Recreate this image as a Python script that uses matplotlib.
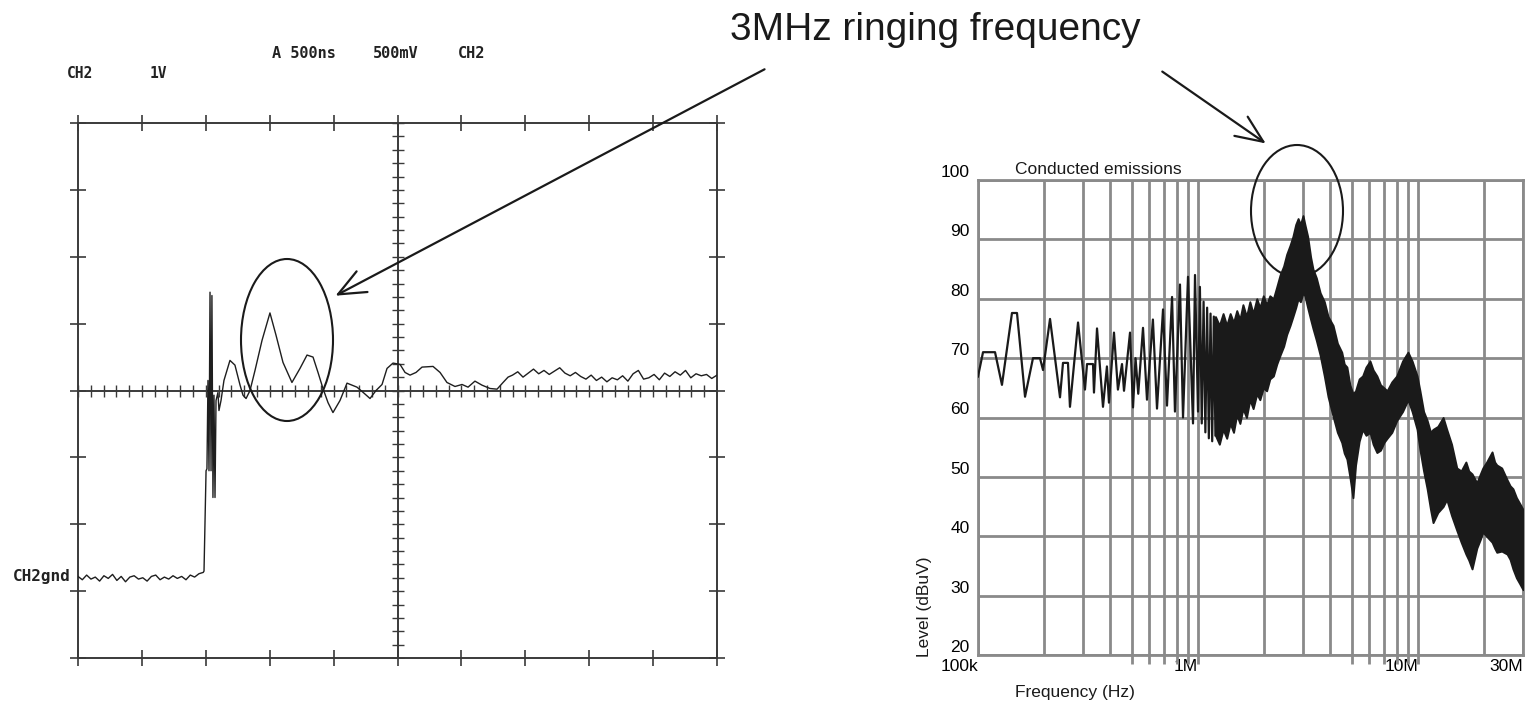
import matplotlib
matplotlib.use("Agg")
import matplotlib.pyplot as plt
import numpy as np
from matplotlib.patches import Ellipse, FancyArrowPatch
import matplotlib.transforms as mtransforms

# ---------------- data: oscilloscope (left) ----------------
# time in microseconds (500 ns/div), voltage in V (1 V/div), ground = 0 V
base_t_end = 0.98
base_v = [0.02, -0.03, 0.04, -0.02, 0.01, -0.05, 0.03, -0.01, 0.05, -0.04,
          0.02, -0.06, 0.01, 0.03, -0.02, 0.00, -0.05, 0.02, 0.04, -0.03,
          0.01, -0.02, 0.03, -0.01, 0.02, -0.03, 0.04, 0.01, 0.06, 0.08]

ring_t = [0.986, 1.002, 1.009, 1.017, 1.025, 1.033, 1.041, 1.048, 1.056, 1.064,
          1.072, 1.080, 1.095, 1.103, 1.119, 1.142, 1.189, 1.228, 1.268, 1.291,
          1.315, 1.346, 1.385, 1.440, 1.502, 1.549, 1.604, 1.674, 1.737, 1.792,
          1.839, 1.878, 1.917, 1.956, 1.995, 2.050, 2.105, 2.183, 2.238, 2.285,
          2.332, 2.379, 2.418, 2.465, 2.520, 2.559, 2.598, 2.645, 2.692, 2.778,
          2.833, 2.887, 2.950, 3.005, 3.052, 3.106, 3.161, 3.224, 3.279, 3.326,
          3.365]
ring_v = [0.10, 1.60, 1.63, 2.95, 1.60, 4.27, 1.60, 4.22, 1.20, 2.73,
          1.20, 2.65, 2.77, 2.50, 2.65, 2.95, 3.25, 3.18, 2.88, 2.73,
          2.68, 2.80, 3.10, 3.55, 3.96, 3.63, 3.22, 2.92, 3.13, 3.33,
          3.30, 3.07, 2.83, 2.62, 2.47, 2.65, 2.91, 2.85, 2.76, 2.68,
          2.80, 2.89, 3.13, 3.21, 3.19, 3.07, 3.03, 3.07, 3.15, 3.16,
          3.07, 2.92, 2.86, 2.89, 2.85, 2.94, 2.88, 2.83, 2.82, 2.92,
          3.00]

tail_t_start, tail_t_end = 3.40, 5.0
tail_v = [3.03, 3.08, 3.00, 3.06, 3.12, 3.05, 3.10, 3.04, 3.09, 3.14,
          3.06, 3.02, 3.07, 3.01, 2.97, 3.03, 2.95, 3.00, 2.93, 2.99,
          2.96, 3.02, 2.94, 3.05, 3.10, 2.97, 2.99, 3.04, 2.96, 3.06,
          3.01, 3.08, 3.03, 3.10, 2.99, 3.05, 3.02, 3.04, 2.98, 3.03]

# ---------------- data: conducted emissions (right) ----------------
lf_f_khz = [100, 105.4, 119.5, 128.5, 142.7, 150.4, 163.6, 177.8, 191.3, 197.5,
            212.5, 235.9, 243.4, 256.4, 261.8, 284.9, 306.3, 313, 333.3, 336.6,
            347.5, 369.9, 385.5, 393.8, 415, 432.5, 451.4, 460.9, 490.9, 506.5,
            520, 535, 562.3, 586.2, 623.7, 651, 693.4, 722.8, 762.1, 785.6,
            828, 854.7, 900.6, 949, 969, 1000, 1020, 1040, 1060, 1080,
            1100, 1120, 1140, 1160, 1180, 1200]
lf_level = [66.9, 71, 71, 65.5, 77.6, 77.6, 63.5, 70, 70, 68,
            76.6, 63.4, 69.2, 69.2, 61.8, 76, 64.7, 69, 69, 64.2,
            75, 61.8, 68.6, 62.5, 74.3, 64.7, 69, 64.5, 74.3, 61.7,
            70, 64, 75.1, 63, 76.5, 61.5, 78.2, 62, 80.3, 61,
            82.4, 60, 83.7, 59, 84, 61, 82, 59, 79.5, 57.5,
            78.5, 56.5, 77.5, 56, 77, 57]

band_f_mhz = [1.20, 1.25, 1.30, 1.35, 1.40, 1.45, 1.50, 1.55, 1.60, 1.66,
              1.72, 1.78, 1.85, 1.91, 1.98, 2.05, 2.12, 2.20, 2.28, 2.36,
              2.45, 2.53, 2.62, 2.70, 2.78, 2.85, 2.92, 3.00, 3.06, 3.15,
              3.25, 3.33, 3.45, 3.59, 3.75, 3.90, 4.11, 4.30, 4.50, 4.62,
              4.75, 4.90, 5.06, 5.20, 5.40, 5.60, 5.80, 6.05, 6.25, 6.50,
              6.75, 7.00, 7.23, 7.60, 8.00, 8.50, 9.00, 9.40, 9.90, 10.2,
              10.6, 11.0, 11.4, 11.7, 12.3, 13.0, 13.5, 14.2, 15.0, 15.7,
              16.5, 17.0, 17.6, 18.5, 19.2, 19.7, 20.5, 21.7, 22.3, 22.8,
              24.0, 25.4, 26.2, 27.0, 28.0, 29.0, 30.0]
band_hi = [77, 75.5, 77.5, 75.5, 77.5, 76, 78, 76.5, 79, 77,
           79.5, 77.5, 80, 78.5, 80.5, 79, 80.5, 80, 82, 84,
           85.5, 87.5, 89, 90.5, 92.5, 93.5, 92.5, 94, 92.5, 90.5,
           87, 85, 83.5, 81, 79.5, 77, 75.5, 72.5, 71, 69,
           68.5, 65.5, 64, 64.5, 66.5, 67, 68.5, 69.5, 68, 67,
           65.5, 65, 64.5, 66, 67, 69.5, 71, 69.5, 67, 64.5,
           61, 59.5, 57.5, 58, 58.5, 60, 58, 55.5, 51.5, 51,
           52.5, 51, 50.5, 49, 50.5, 51.5, 52.5, 54.2, 52.5, 52,
           51.5, 49.5, 48.5, 48, 46.5, 45.5, 44.5]
band_lo = [57, 55.5, 58, 56.5, 59, 57.5, 60.5, 59, 61.5, 60,
           63, 61.5, 64, 63, 65, 64.5, 66.5, 67, 69, 70.5,
           72, 74, 75.5, 77, 78.5, 80, 79.5, 81, 80.5, 78.5,
           76.5, 75, 73, 70.5, 67, 63.5, 60.2, 57.5, 55.8, 54,
           53, 50, 46.5, 52, 56, 58, 57, 57.5, 55.5, 54.1,
           54.5, 55.8, 56.5, 57.5, 59.5, 61, 63, 61, 58, 54.6,
           51, 48, 44.5, 42.3, 44, 45, 46.2, 43.5, 41, 39,
           37, 36, 34.5, 38, 39.5, 40.7, 40, 39, 38, 37.3,
           37.5, 37, 36.1, 34.5, 33, 32, 31]

freq_ticks = [1e5, 1e6, 1e7, 3e7]
freq_labels = ["100k", "1M", "10M", "30M"]
level_ticks = [20, 30, 40, 50, 60, 70, 80, 90, 100]

# ---------------- figure ----------------
W, H = 1528, 708
fig = plt.figure(figsize=(W / 100, H / 100), dpi=100)
fig.patch.set_facecolor("white")


def fx(px):
    return px / W


def fy(py):
    return 1 - py / H


# ----- left: scope -----
ax1 = fig.add_axes([fx(78), fy(658), (717 - 78) / W, (658 - 123) / H])
ax1.set_xlim(0, 5)
ax1.set_ylim(-1.2, 6.8)
frame_c = "#3a3a3a"
for s in ax1.spines.values():
    s.set_color(frame_c)
    s.set_linewidth(1.4)
ax1.set_xticks(np.arange(0, 5.001, 0.5))
ax1.set_yticks(np.arange(-1.2, 6.801, 1.0))
ax1.tick_params(direction="inout", length=12, width=1.2, color=frame_c,
                top=True, right=True, labelbottom=False, labelleft=False)

# centre cross-hair with minor graticule ticks
ax1.axvline(2.5, color=frame_c, lw=1.4, zorder=1)
ax1.axhline(2.8, color=frame_c, lw=1.4, zorder=1)
hx = np.arange(0, 5.001, 0.1)
ax1.plot(hx, np.full_like(hx, 2.8), ls="none", marker="|", ms=8, mew=1.0,
         color=frame_c, zorder=1)
hv = np.arange(-1.2, 6.801, 0.2)
ax1.plot(np.full_like(hv, 2.5), hv, ls="none", marker="_", ms=8, mew=1.0,
         color=frame_c, zorder=1)

t_all = np.concatenate([np.linspace(0, base_t_end, len(base_v)), ring_t,
                        np.linspace(tail_t_start, tail_t_end, len(tail_v))])
v_all = np.concatenate([base_v, ring_v, tail_v])
ax1.plot(t_all, v_all, color="#1e1e1e", lw=1.0, zorder=3)

mono = dict(family="DejaVu Sans Mono", weight="bold", color="#222222")
fig.text(fx(272), fy(54), "A 500ns", fontsize=11, va="center", ha="left", **mono)
fig.text(fx(373), fy(54), "500mV", fontsize=11, va="center", ha="left", **mono)
fig.text(fx(458), fy(54), "CH2", fontsize=11, va="center", ha="left", **mono)
fig.text(fx(67), fy(73), "CH2", fontsize=10.5, va="center", ha="left", **mono)
fig.text(fx(150), fy(73), "1V", fontsize=10.5, va="center", ha="left", **mono)
fig.text(fx(13), fy(577), "CH2gnd", fontsize=11.5, va="center", ha="left", **mono)

# ----- right: conducted emissions -----
grid_c = "#8a8a8a"
ax2 = fig.add_axes([fx(978), fy(655), 545 / W, (655 - 180) / H])
ax2.set_xscale("log")
ax2.set_xlim(1e5, 3e7)
ax2.set_ylim(20, 100)
ax2.set_xticks(freq_ticks)
ax2.set_xticklabels(freq_labels)
minor = [m * 10 ** e for e in (5, 6) for m in range(2, 10)] + [2e7]
ax2.set_xticks(minor, minor=True)
ax2.xaxis.set_minor_formatter(matplotlib.ticker.NullFormatter())
ax2.set_yticks(level_ticks)
ax2.grid(which="both", color=grid_c, lw=2.0, zorder=0)
for s in ax2.spines.values():
    s.set_color(grid_c)
    s.set_linewidth(2.0)
ax2.tick_params(axis="y", length=0, pad=6, labelsize=12.5)
ax2.tick_params(axis="x", which="both", length=0, pad=3, labelsize=12.5)
for lab in ax2.get_yticklabels():
    lab.set_va("bottom")
    lab.set_family("Liberation Sans")
for lab in ax2.get_xticklabels():
    lab.set_ha("right")
    lab.set_family("Liberation Sans")

# short gridline extensions below the frame
ext = [5e5, 6e5, 7e5, 8e5, 9e5, 1e6, 5e6, 6e6, 7e6, 8e6, 9e6, 1e7]
trans = mtransforms.blended_transform_factory(ax2.transData, ax2.transAxes)
ax2.vlines(ext, -0.018, 0, transform=trans, color=grid_c, lw=2.0, clip_on=False)

ax2.plot(np.array(lf_f_khz) * 1e3, lf_level, color="#1a1a1a", lw=1.6, zorder=3)
bf = np.array(band_f_mhz) * 1e6
ax2.fill_between(bf, band_lo, band_hi, color="#1a1a1a", lw=1.4,
                 edgecolor="#1a1a1a", zorder=3)

sans = dict(family="Liberation Sans", color="#1a1a1a")
fig.text(fx(1015), fy(170), "Conducted emissions", fontsize=12.5, va="center",
         ha="left", **sans)
fig.text(fx(925), fy(607), "Level (dBuV)", fontsize=12.5, rotation=90,
         va="center", ha="center", **sans)
fig.text(fx(1015), fy(693), "Frequency (Hz)", fontsize=12.5, va="center",
         ha="left", **sans)

# ----- annotation -----
fig.text(fx(935), fy(30), "3MHz ringing frequency", fontsize=28, va="center",
         ha="center", **sans)

for (x0, y0), (x1, y1) in [((767, 68), (333, 297)), ((1160, 70), (1268, 145))]:
    arr = FancyArrowPatch((fx(x0), fy(y0)), (fx(x1), fy(y1)),
                          transform=fig.transFigure,
                          arrowstyle="->,head_length=1.4,head_width=0.6",
                          mutation_scale=14, color="#1a1a1a", lw=1.6)
    fig.add_artist(arr)

for (cx, cy, w, h) in [(287, 340, 92, 162), (1297, 211, 92, 132)]:
    e = Ellipse((fx(cx), fy(cy)), w / W, h / H, transform=fig.transFigure,
                fill=False, edgecolor="#1a1a1a", lw=1.5)
    fig.add_artist(e)

fig.savefig("out.png", dpi=100)
